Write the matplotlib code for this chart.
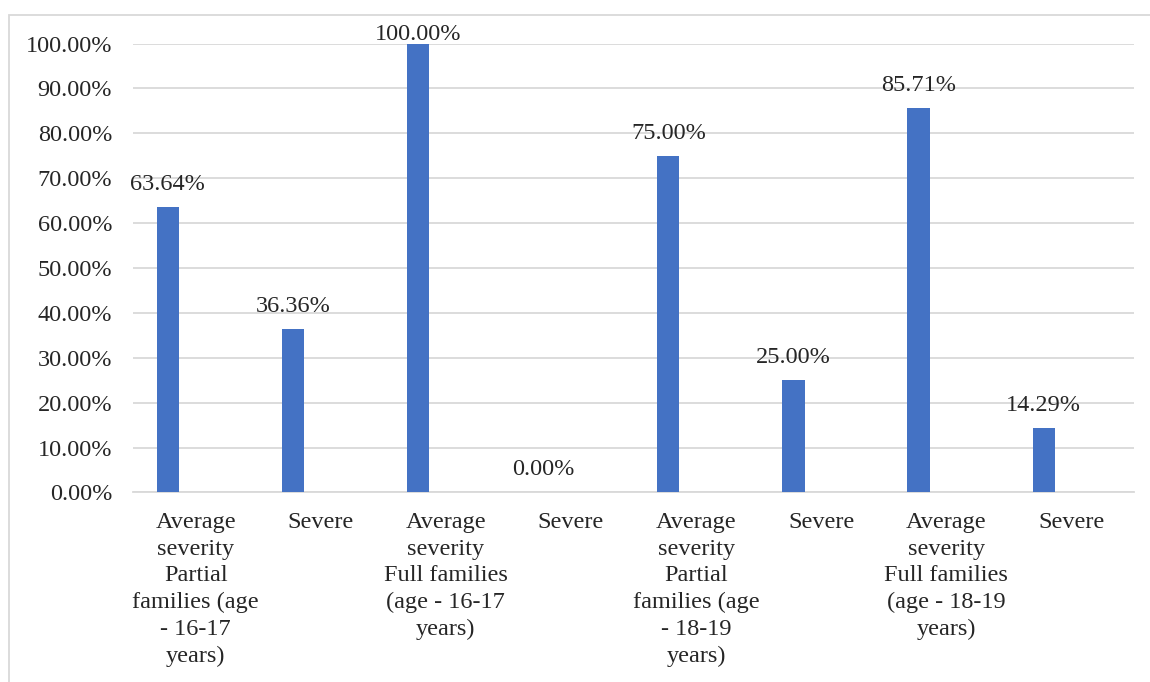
import matplotlib.pyplot as plt
from matplotlib.patches import Rectangle
from matplotlib.ticker import FuncFormatter

# Share of cases by severity and family type
categories = [
    "Average\nseverity\nPartial\nfamilies (age\n- 16-17\nyears)",
    "Severe",
    "Average\nseverity\nFull families\n(age - 16-17\nyears)",
    "Severe",
    "Average\nseverity\nPartial\nfamilies (age\n- 18-19\nyears)",
    "Severe",
    "Average\nseverity\nFull families\n(age - 18-19\nyears)",
    "Severe",
]
values = [63.64, 36.36, 100.00, 0.00, 75.00, 25.00, 85.71, 14.29]
yticks = [0, 10, 20, 30, 40, 50, 60, 70, 80, 90, 100]

BAR_COLOR = "#4472C4"
GRID_COLOR = "#D9D9D9"
TEXT_COLOR = "#262626"
FS = 17.5

plt.rcParams["font.family"] = ["Liberation Serif", "DejaVu Serif"]
plt.rcParams["font.size"] = FS

fig = plt.figure(figsize=(11.5, 6.82), dpi=100)
ax = fig.add_axes([0.1157, 0.2779, 0.8704, 0.6583])

# chart area outline (only top and left edges fall inside the image)
fig.patches.append(Rectangle((9 / 1150, -0.1), 1.2, 1 - 14.7 / 682 + 0.1,
                             transform=fig.transFigure, fill=False,
                             edgecolor=GRID_COLOR, linewidth=1.3))

x = list(range(len(categories)))
bar_x = [i - 0.222 for i in x]
ax.bar(bar_x, values, width=0.178, color=BAR_COLOR, zorder=3)

for bx, v in zip(bar_x, values):
    ly = min(v + 3.8, 100.85)
    ax.text(bx, ly, f"{v:.2f}%", ha="center", va="baseline",
            color=TEXT_COLOR, fontsize=FS, clip_on=False, zorder=4)

ax.set_xlim(-0.5, len(categories) - 0.5)
ax.set_ylim(0, 100)
ax.set_yticks(yticks)
ax.yaxis.set_major_formatter(FuncFormatter(lambda v, p: f"{v:.2f}%"))
ax.set_xticks(x)
ax.set_xticklabels(categories, linespacing=1.36, ha="center")

ax.tick_params(axis="y", length=0, pad=15, colors=TEXT_COLOR)
ax.tick_params(axis="x", length=0, pad=14, colors=TEXT_COLOR)
ax.grid(axis="y", color=GRID_COLOR, linewidth=1.3, zorder=0)
for side in ["top", "right", "left"]:
    ax.spines[side].set_visible(False)
ax.spines["bottom"].set_color(GRID_COLOR)
ax.spines["bottom"].set_linewidth(1.3)
ax.spines["bottom"].set_zorder(2)

fig.savefig("out.png", dpi=100)
